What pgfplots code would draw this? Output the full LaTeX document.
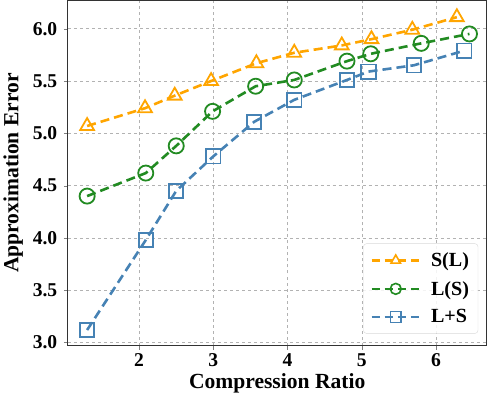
\documentclass[border=0pt]{standalone}
\usepackage{fontspec}
\setmainfont{Liberation Serif}
\usepackage{pgfplots}
\pgfplotsset{compat=1.18}
\definecolor{corange}{RGB}{255,165,0}
\definecolor{cgreen}{RGB}{34,139,34}
\definecolor{cblue}{RGB}{70,130,180}
\begin{document}
\begin{tikzpicture}
\begin{axis}[
  scale only axis,
  width=416bp, height=343bp,
  xmin=1.04, xmax=6.68, ymin=2.97, ymax=6.27,
  xtick={2,3,4,5,6},
  ytick={3,3.5,4,4.5,5,5.5,6},
  yticklabel style={xshift=-3bp, /pgf/number format/.cd, fixed, fixed zerofill, precision=1},
  /pgf/number format/assume math mode=true,
  tick label style={font=\fontsize{19.5}{19.5}\selectfont\bfseries},
  label style={font=\fontsize{21.5}{21.5}\selectfont\bfseries},
  xlabel={Compression Ratio},
  ylabel={Approximation Error},
  xlabel style={yshift=0pt},
  ylabel style={yshift=3pt},
  tick align=outside,
  tick pos=left,
  major tick length=4bp,
  axis line style={black!80, line width=0.9pt},
  grid=major,
  grid style={gray!60, dashed, line width=0.6pt},
  every axis plot/.append style={line width=2.6pt, dash pattern=on 9bp off 5bp},
  mark size=7.5bp,
  legend style={at={(0.98,0.035)}, anchor=south east, draw=gray!30, rounded corners=3pt,
    fill=white, fill opacity=0.85, text opacity=1, font=\fontsize{20}{20}\selectfont\bfseries,
    row sep=9pt, inner xsep=7pt, inner ysep=7pt},
  legend cell align=left,
  legend image code/.code={
    \draw[mark repeat=2, mark phase=2, mark options={solid, line width=1.6pt, scale=0.72}, line width=2.2pt, dash pattern=on 8bp off 5bp]
      plot coordinates {(0bp,0bp) (24bp,0bp) (48bp,0bp)};},
]
\addplot[corange, mark=triangle, mark options={solid, line width=1.8pt, scale=1.05}] coordinates {
(1.30,5.07) (2.08,5.24) (2.48,5.36) (2.97,5.50) (3.58,5.67) (4.09,5.77) (4.73,5.84) (5.13,5.90) (5.68,5.99) (6.28,6.11)};
\addlegendentry{\hspace{8bp}S(L)}
\addplot[cgreen, mark=o, mark options={solid, line width=1.8pt}] coordinates {
(1.30,4.40) (2.09,4.62) (2.50,4.88) (2.99,5.21) (3.57,5.45) (4.09,5.51) (4.80,5.69) (5.12,5.76) (5.80,5.86) (6.45,5.95)};
\addlegendentry{\hspace{8bp}L(S)}
\addplot[cblue, mark=square, mark options={solid, line width=1.8pt, scale=0.95}] coordinates {
(1.30,3.12) (2.09,3.98) (2.50,4.45) (3.00,4.78) (3.55,5.11) (4.09,5.32) (4.80,5.51) (5.09,5.59) (5.70,5.65) (6.38,5.79)};
\addlegendentry{\hspace{8bp}L+S}
\end{axis}
\end{tikzpicture}
\end{document}
